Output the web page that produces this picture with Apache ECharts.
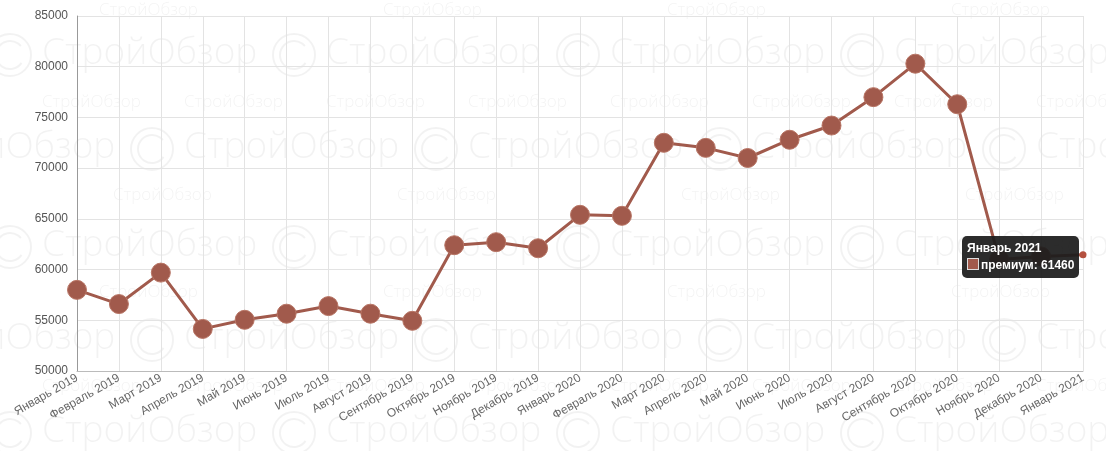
<!DOCTYPE html>
<html>
<head>
<meta charset="utf-8">
<script src="https://cdn.jsdelivr.net/npm/echarts@6/dist/echarts.min.js"></script>
<style>
  html, body { margin: 0; padding: 0; background: #fff; }
  #chart { width: 1106px; height: 451px; }
</style>
</head>
<body>
<div id="chart"></div>
<script>
// данные
const months = [
  "Январь 2019", "Февраль 2019", "Март 2019", "Апрель 2019", "Май 2019",
  "Июнь 2019", "Июль 2019", "Август 2019", "Сентябрь 2019", "Октябрь 2019",
  "Ноябрь 2019", "Декабрь 2019", "Январь 2020", "Февраль 2020", "Март 2020",
  "Апрель 2020", "Май 2020", "Июнь 2020", "Июль 2020", "Август 2020",
  "Сентябрь 2020", "Октябрь 2020", "Ноябрь 2020", "Декабрь 2020", "Январь 2021"
];
const premium = [
  58000, 56600, 59700, 54150, 55050,
  55650, 56400, 55650, 54950, 62400,
  62700, 62100, 65400, 65300, 72500,
  72000, 71000, 72800, 74200, 77000,
  80300, 76300, 61000, 61300, 61460
];
const seriesName = "премиум";
const yMin = 50000;
const yMax = 85000;
const yStep = 5000;

const lineColor = "#a15a4c";
const wmColor = "rgba(0,0,0,0.05)";

// водяной знак "СтройОбзор"
function watermark() {
  const els = [];
  const bigRows = [[53, 42], [147, 184], [245, 42], [338, 184], [431, 42]];
  bigRows.forEach(([y, off]) => {
    for (let x = off - 284; x < 1106; x += 284) {
      els.push({
        type: "text", silent: true, z: -10,
        style: { text: "СтройОбзор", x: x, y: y, fill: wmColor,
          font: '300 37px "Open Sans", sans-serif', verticalAlign: "middle" }
      });
      els.push({
        type: "circle", silent: true, z: -10,
        shape: { cx: x - 32, cy: y + 2, r: 21 },
        style: { fill: "none", stroke: wmColor, lineWidth: 2 }
      });
      els.push({
        type: "arc", silent: true, z: -10,
        shape: { cx: x - 32, cy: y + 2, r: 14, startAngle: 0.6, endAngle: 5.6 },
        style: { fill: "none", stroke: wmColor, lineWidth: 2 }
      });
    }
  });
  const smallRows = [[10, 99, 284], [102, 42, 142], [195, 113, 284], [292, 99, 284], [386, 42, 142]];
  smallRows.forEach(([y, off, step]) => {
    for (let x = off - step; x < 1106; x += step) {
      els.push({
        type: "text", silent: true, z: -10,
        style: { text: "СтройОбзор", x: x, y: y, fill: wmColor,
          font: '300 17px "Open Sans", sans-serif', verticalAlign: "middle" }
      });
    }
  });
  return els;
}

const chart = echarts.init(document.getElementById("chart"));

const data = premium.map((v, i) => i === premium.length - 1
  ? { value: v, symbolSize: 7, itemStyle: { color: "#b4503f", borderWidth: 0 } }
  : v);

const option = {
  animation: false,
  backgroundColor: "#fff",
  textStyle: { fontFamily: '"Liberation Sans", Arial, sans-serif' },
  graphic: watermark(),
  grid: { left: 77, right: 23, top: 16, bottom: 80, containLabel: false },
  tooltip: {
    trigger: "item",
    alwaysShowContent: true,
    transitionDuration: 0,
    backgroundColor: "rgba(28,28,28,0.93)",
    borderWidth: 0,
    padding: [4, 5],
    extraCssText: "box-shadow:none;border-radius:5px;line-height:17px;",
    textStyle: { color: "#fff", fontSize: 12, fontWeight: "bold",
      fontFamily: '"Liberation Sans", Arial, sans-serif' },
    position: function (point) {
      return [point[0] - 121, point[1] - 19];
    },
    formatter: function (p) {
      return "<b>" + p.name + "</b><br/>" +
        '<span style="display:inline-block;width:10px;height:10px;background:' + lineColor +
        ';border:1px solid #ddd;margin-right:2px;vertical-align:-1px"></span>' +
        "<b>" + p.seriesName + ": " + p.value + "</b>";
    }
  },
  xAxis: {
    type: "category",
    data: months,
    boundaryGap: false,
    axisLine: { lineStyle: { color: "#bbb" } },
    axisTick: { show: false },
    axisLabel: { rotate: 30, interval: 0, color: "#666", fontSize: 12, margin: 6 },
    splitLine: { show: true, lineStyle: { color: "#e3e3e3" } }
  },
  yAxis: {
    type: "value",
    min: yMin,
    max: yMax,
    interval: yStep,
    axisLine: { show: true, lineStyle: { color: "#999" } },
    axisTick: { show: false },
    axisLabel: { color: "#555", fontSize: 12, margin: 9, formatter: v => String(v) },
    splitLine: { lineStyle: { color: "#e3e3e3" } }
  },
  series: [{
    name: seriesName,
    type: "line",
    data: data,
    symbol: "circle",
    symbolSize: 19,
    lineStyle: { color: lineColor, width: 3 },
    itemStyle: { color: lineColor, borderColor: "#b87565", borderWidth: 1 },
    emphasis: { disabled: true }
  }]
};

chart.setOption(option);
chart.dispatchAction({ type: "showTip", seriesIndex: 0, dataIndex: premium.length - 1 });
</script>
</body>
</html>
